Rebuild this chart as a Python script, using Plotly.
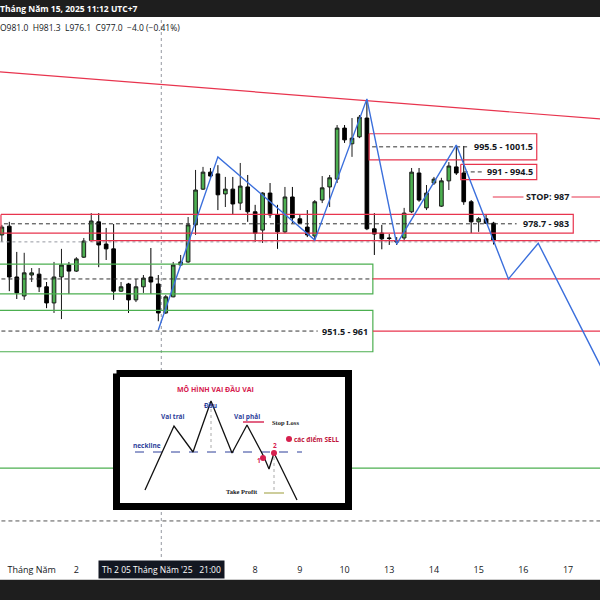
import plotly.graph_objects as go

# ---------------- candle data (4h candles, index 0..66) ----------------
idx = list(range(67))
opens = [978.3, 980.3, 968.65, 964.3, 969.1, 969.3, 966.4, 962.7, 968.65, 971.4,
         970.0, 973.2, 977.0, 981.3, 976.2, 975.1, 965.4, 967.05, 963.4, 966.4,
         968.65, 967.05, 960.4, 964.1, 971.4, 972.1, 980.6, 988.8, 992.7, 992.3,
         987.7, 988.8, 985.6, 989.3, 983.6, 979.4, 987.9, 982.9, 979.0, 987.0,
         982.0, 980.1, 978.05, 986.3, 989.3, 991.1, 1002.8, 999.2, 1000.8, 1005.1,
         979.7, 978.7, 977.6, 976.9, 977.6, 983.6, 992.5, 984.5, 990.2, 984.9,
         990.7, 993.9, 992.5, 985.9, 981.3, 982.0, 981.0]
highs = [980.6, 981.3, 974.4, 974.2, 970.7, 970.7, 967.5, 972.1, 975.1, 972.1,
         973.2, 977.6, 983.3, 983.3, 979.9, 980.8, 967.5, 967.3, 968.2, 969.1,
         975.3, 969.1, 964.5, 972.1, 973.7, 982.4, 993.2, 993.9, 993.65, 994.3,
         991.6, 991.6, 994.8, 992.05, 985.2, 988.1, 990.2, 985.2, 989.3, 989.3,
         982.9, 984.0, 986.3, 991.8, 992.05, 1003.5, 1003.5, 1005.1, 1005.8, 1009.25,
         983.3, 980.6, 978.5, 977.8, 984.5, 993.65, 993.65, 989.75, 991.6, 991.4,
         995.0, 998.9, 998.7, 986.3, 982.4, 982.9, 981.3]
lows = [976.7, 965.4, 963.6, 963.4, 967.5, 965.2, 961.5, 960.4, 959.0, 964.75,
        969.8, 973.0, 976.7, 970.9, 972.55, 963.4, 965.2, 960.4, 962.9, 965.0,
        964.75, 958.5, 960.2, 964.0, 971.2, 971.9, 978.3, 988.6, 991.4, 984.0,
        984.7, 982.9, 984.0, 981.3, 976.7, 976.45, 982.2, 975.1, 978.7, 981.0,
        980.8, 977.8, 977.1, 985.6, 984.7, 990.2, 999.4, 996.2, 1000.5, 979.4,
        973.7, 975.0, 976.0, 976.0, 977.1, 983.3, 985.9, 984.0, 989.75, 984.7,
        988.6, 992.05, 985.2, 978.7, 979.0, 980.8, 976.1]
closes = [980.1, 968.65, 965.0, 969.6, 969.6, 966.4, 962.7, 968.65, 971.4, 970.0,
          972.8, 976.9, 981.5, 976.0, 975.1, 965.4, 966.4, 963.4, 966.4, 968.4,
          967.5, 960.4, 964.1, 971.4, 972.1, 980.6, 988.6, 992.7, 991.8, 987.5,
          988.8, 985.4, 989.5, 983.6, 978.7, 987.9, 982.9, 979.0, 987.0, 982.2,
          981.0, 978.3, 985.9, 989.1, 991.4, 1002.8, 1000.1, 1000.5, 1005.3, 979.7,
          978.5, 977.4, 977.5, 976.7, 983.3, 992.7, 986.3, 987.9, 991.1, 990.7,
          994.1, 992.5, 985.9, 981.3, 982.0, 981.0, 977.0]

# ---------------- x-axis day labels ----------------
tick_idx = [4, 10, 34, 40, 46, 52, 58, 64, 70, 76]
tick_text = ["Tháng Năm", "2", "8", "9", "10", "13", "14", "15", "16", "17"]
crosshair_idx = 21.4
crosshair_price = 976.7
crosshair_label = "Th 2 05 Tháng Năm '25   21:00"

# ---------------- drawings ----------------
trend_x = [-1, 81]
trend_y = [1015.8, 1004.8]

zig_x = [21, 29, 42, 49, 53, 61, 68, 72, 81]
zig_y = [956.5, 996.2, 977.1, 1009.5, 976.2, 998.9, 968.2, 976.4, 946.1]

# red zones
red_zone_low = [995.5, 991.0, 978.7]
red_zone_high = [1001.5, 994.5, 983.0]
red_zone_x0 = [49.3, 61.6, -0.12]
red_zone_x1 = [71.8, 71.8, 76.7]
red_zone_dash_end = [62.5, 64.6, 69.1]
red_zone_label_x = [71.5, 71.5, 76.4]
red_zone_labels = ["995.5 - 1001.5", "991 - 994.5", "978.7 - 983"]

# green zones
green_zone_low = [964.8, 951.5]
green_zone_high = [971.6, 961.0]
green_zone_x1 = [49.8, 49.8]
green_zone_dash_end = [49.8, 42.4]
green_zone_labels = ["", "951.5 - 961"]

stop_price = 987.0
stop_x0 = 65.9
stop_label = "STOP: 987"
stop_label_x = 73.3

red_rays_price = [977.0, 968.2, 956.25]
red_rays_x0 = [11.8, 49.8, 49.8]

green_line_price = 924.8
gray_dash_price = 912.7

RED = "#e8344e"
GREEN = "#4caf50"
BLUE = "#3b6fdc"
DARK = "#131722"
DASH = "4px,3px"

X_RANGE = [-0.25, 80.29]
Y_RANGE = [904.43, 1028.28]

fig = go.Figure()


def line(x, y, color, width=1, dash="solid", xaxis="x", yaxis="y", fill=None, fillcolor=None):
    fig.add_trace(go.Scatter(x=x, y=y, mode="lines", xaxis=xaxis, yaxis=yaxis,
                             line=dict(color=color, width=width, dash=dash),
                             fill=fill, fillcolor=fillcolor,
                             hoverinfo="skip", showlegend=False))


# background horizontal lines
line([-1, 81], [crosshair_price, crosshair_price], "#9598a1", 1, "dot")
line([-1, 81], [green_line_price, green_line_price], GREEN, 1.2)
line([-1, 81], [gray_dash_price, gray_dash_price], "#555555", 1, DASH)

# green zones
for lo, hi, x1, de in zip(green_zone_low, green_zone_high, green_zone_x1, green_zone_dash_end):
    line([-1, x1, x1, -1], [hi, hi, lo, lo], GREEN, 1.2)
    mid = (lo + hi) / 2
    line([-1, de], [mid, mid], "#333333", 1, DASH)

# red zones
for lo, hi, x0, x1, de in zip(red_zone_low, red_zone_high, red_zone_x0, red_zone_x1, red_zone_dash_end):
    line([x0, x1, x1, x0, x0], [hi, hi, lo, lo, hi], RED, 1.2)
    mid = (lo + hi) / 2
    line([x0 + 0.4, de], [mid, mid], "#333333", 1, DASH)

# red rays
for p, x0 in zip(red_rays_price, red_rays_x0):
    line([x0, 81], [p, p], RED, 1.2)
line([stop_x0, 81], [stop_price, stop_price], RED, 1.2)

# trend line
line(trend_x, trend_y, RED, 1.2)

# candles
fig.add_trace(go.Candlestick(
    x=idx, open=opens, high=highs, low=lows, close=closes,
    increasing=dict(line=dict(color="#1b1b1b", width=1), fillcolor=GREEN),
    decreasing=dict(line=dict(color="#000000", width=1), fillcolor="#000000"),
    whiskerwidth=0, hoverinfo="skip", showlegend=False))

# zigzag projection
line(zig_x, zig_y, BLUE, 1.4)

annotations = []
label_font = dict(family="Open Sans", size=9, color=DARK)
for lo, hi, lx, txt in zip(red_zone_low, red_zone_high, red_zone_label_x, red_zone_labels):
    annotations.append(dict(x=lx, y=(lo + hi) / 2, xref="x", yref="y", text="<b>" + txt + "</b>",
                            showarrow=False, xanchor="right", yanchor="middle", font=label_font))
annotations.append(dict(x=49.4, y=(green_zone_low[1] + green_zone_high[1]) / 2, xref="x", yref="y",
                        text="<b>" + green_zone_labels[1] + "</b>", showarrow=False,
                        xanchor="right", yanchor="middle", font=label_font))
annotations.append(dict(x=stop_label_x, y=stop_price, xref="x", yref="y", text="<b>" + stop_label + "</b>",
                        showarrow=False, xanchor="center", yanchor="middle", font=label_font,
                        bgcolor="white", borderpad=2))

# ---------------- inset illustration (local units, 239 x 140) ----------------
box_x = [3.5, 235.5, 235.5, 3.5, 3.5]
box_y = [3.5, 3.5, 136.5, 136.5, 3.5]
pattern_x = [32, 61, 80, 98, 119, 134, 151, 156, 161, 184]
pattern_y = [120, 56, 82, 31, 83, 55, 87, 99, 83, 130]
neck_x = [22, 189]
neck_y = [82, 82]
sell_x = [150, 161, 176]
sell_y = [88, 83, 69]

line(box_x, box_y, "#000000", 7, xaxis="x2", yaxis="y2", fill="toself", fillcolor="white")
line(neck_x, neck_y, "#2c3e9a", 1, "dash", xaxis="x2", yaxis="y2")
line([98, 98], [33, 82], "#aaaaaa", 1, "dot", xaxis="x2", yaxis="y2")
line([161, 161], [87, 122], "#aaaaaa", 1, "dot", xaxis="x2", yaxis="y2")
line([130, 151], [52, 52], "#d6204e", 1.4, xaxis="x2", yaxis="y2")
line([151, 171], [123, 123], "#b8b870", 1.4, xaxis="x2", yaxis="y2")
line(pattern_x, pattern_y, "#111111", 1.3, xaxis="x2", yaxis="y2")
fig.add_trace(go.Scatter(x=sell_x, y=sell_y, mode="markers", xaxis="x2", yaxis="y2",
                         marker=dict(color="#d6204e", size=6), hoverinfo="skip", showlegend=False))

inset_texts = [
    (102, 19, "<b>MÔ HÌNH VAI ĐẦU VAI</b>", "#d6204e", 7, "Open Sans"),
    (60, 46, "<b>Vai trái</b>", "#2c3e9a", 6.5, "Open Sans"),
    (97, 35, "<b>Đầu</b>", "#2c3e9a", 6.5, "Open Sans"),
    (134, 46, "<b>Vai phải</b>", "#2c3e9a", 6.5, "Open Sans"),
    (172, 52, "<b>Stop Loss</b>", "#222222", 6.5, "Liberation Serif"),
    (34, 75, "<b>neckline</b>", "#2c3e9a", 6.5, "Open Sans"),
    (203, 69, "<b>các điểm SELL</b>", "#c0143c", 6.5, "Open Sans"),
    (146, 90, "<b>1</b>", "#d6204e", 6.5, "Open Sans"),
    (162, 75, "<b>2</b>", "#d6204e", 6.5, "Open Sans"),
    (129, 121, "<b>Take Profit</b>", "#222222", 6.5, "Liberation Serif"),
]
for tx, ty, t, c, s, fam in inset_texts:
    annotations.append(dict(x=tx, y=ty, xref="x2", yref="y2", text=t, showarrow=False,
                            font=dict(family=fam, size=s, color=c), xanchor="center", yanchor="middle"))

# header texts
annotations.append(dict(x=-0.004, y=1 - 8.5 / 600, xref="paper", yref="paper",
                        text="<b>Tháng Năm 15, 2025 11:12 UTC+7</b>", showarrow=False,
                        xanchor="left", yanchor="middle",
                        font=dict(family="Open Sans", size=8.5, color="white")))
annotations.append(dict(x=-0.004, y=1 - 27 / 600, xref="paper", yref="paper",
                        text="O981.0  H981.3  L976.1  C977.0  −4.0 (−0.41%)", showarrow=False,
                        xanchor="left", yanchor="middle",
                        font=dict(family="Open Sans", size=8.5, color=DARK)))
# crosshair time label
annotations.append(dict(x=crosshair_idx, y=1 - 569 / 600, xref="x", yref="paper",
                        text=crosshair_label, showarrow=False, xanchor="center", yanchor="middle",
                        bgcolor="#131722", borderpad=3,
                        font=dict(family="Open Sans", size=8.5, color="white")))

shapes = [
    dict(type="rect", xref="paper", yref="paper", x0=0, x1=1, y0=1 - 17 / 600, y1=1,
         fillcolor="#1e1e1e", line=dict(width=0), layer="above"),
    dict(type="rect", xref="paper", yref="paper", x0=0, x1=1, y0=0, y1=20 / 600,
         fillcolor="#1e1e1e", line=dict(width=0), layer="above"),
    dict(type="line", xref="paper", yref="paper", x0=0, x1=1, y0=20.5 / 600, y1=20.5 / 600,
         line=dict(color="#cccccc", width=1), layer="above"),
    dict(type="line", xref="x", yref="paper", x0=crosshair_idx, x1=crosshair_idx,
         y0=1 - 557 / 600, y1=1 - 17 / 600, line=dict(color="#9598a1", width=1, dash="dot"),
         layer="below"),
]

fig.update_layout(
    width=600, height=600,
    margin=dict(l=0, r=0, t=0, b=0),
    paper_bgcolor="white", plot_bgcolor="white",
    showlegend=False,
    annotations=annotations,
    shapes=shapes,
    xaxis=dict(domain=[0, 1], range=X_RANGE, showgrid=False, zeroline=False,
               showline=False, rangeslider=dict(visible=False),
               tickmode="array", tickvals=tick_idx, ticktext=tick_text,
               ticks="", ticklabelstandoff=6,
               tickfont=dict(family="Open Sans", size=9, color=DARK),
               anchor="y"),
    yaxis=dict(domain=[43 / 600, 583 / 600], range=Y_RANGE, showgrid=False,
               zeroline=False, showticklabels=False, showline=False, anchor="x"),
    xaxis2=dict(domain=[113 / 600, 352 / 600], range=[0, 239], visible=False,
                anchor="y2", fixedrange=True),
    yaxis2=dict(domain=[1 - 510 / 600, 1 - 370 / 600], range=[140, 0], visible=False,
                anchor="x2", fixedrange=True),
)

fig.write_html("out.html", config={"displayModeBar": False},
               post_script="document.body.style.margin='0';document.body.style.overflow='hidden';")
